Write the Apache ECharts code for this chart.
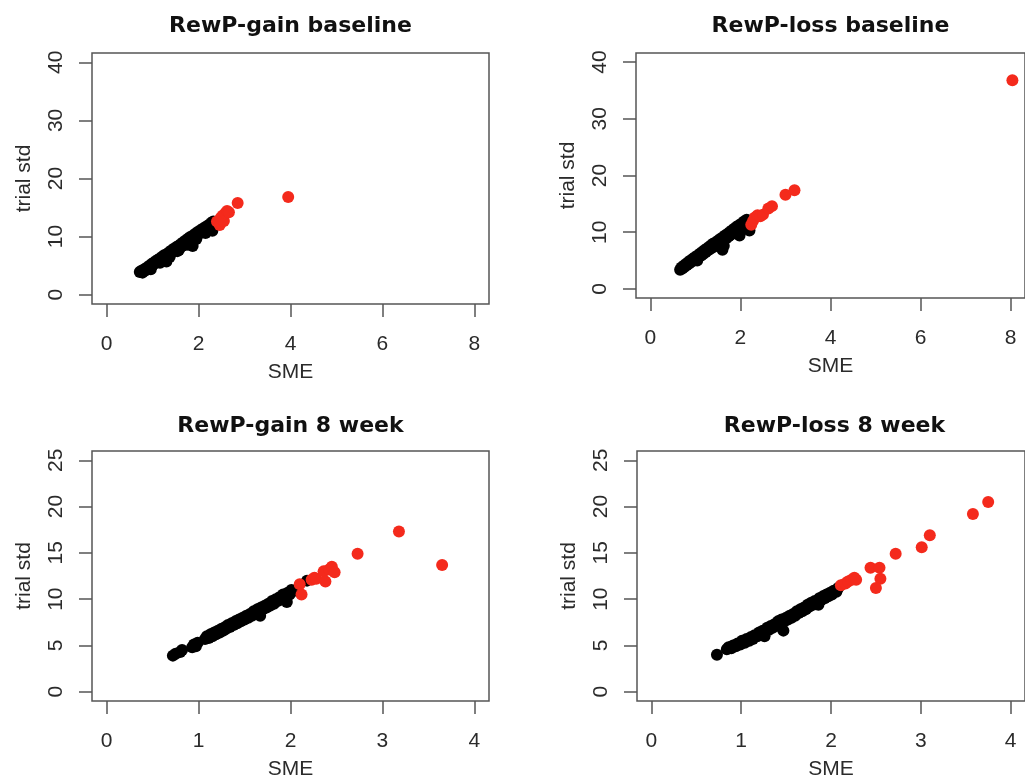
<!DOCTYPE html>
<html>
<head>
<meta charset="utf-8">
<script src="https://cdn.jsdelivr.net/npm/echarts@6/dist/echarts.min.js"></script>
<style>
  html, body { margin: 0; padding: 0; background: #fff; overflow: hidden; }
  #chart { width: 1025px; height: 781px; }
</style>
</head>
<body>
<div id="chart"></div>
<script>
// Panel titles
const panelTitles = ['RewP-gain baseline', 'RewP-loss baseline', 'RewP-gain 8 week', 'RewP-loss 8 week'];
const xAxisTitle = 'SME';
const yAxisTitle = 'trial std';

// Tick labels
const baselineXTicks = [0, 2, 4, 6, 8];
const baselineYTicks = [0, 10, 20, 30, 40];
const week8XTicks = [0, 1, 2, 3, 4];
const week8YTicks = [0, 5, 10, 15, 20, 25];

// [SME, trial std] per channel — black: retained, red: flagged
const gainBaseBlack = [
  [0.72,3.9],[0.75,4.1],[0.78,3.8],[0.80,4.3],[0.83,4.4],[0.85,4.2],[0.88,4.7],[0.90,4.5],[0.93,5.0],[0.95,4.8],
  [0.96,4.4],[0.98,5.3],[1.00,5.1],[1.02,5.5],[1.05,5.4],[1.07,5.8],[1.10,5.6],[1.12,6.0],[1.15,6.2],[1.16,5.5],
  [1.17,5.9],[1.20,6.5],[1.22,6.3],[1.25,6.8],[1.28,6.5],[1.30,5.7],[1.31,7.0],[1.34,6.9],[1.36,7.3],[1.37,6.5],
  [1.39,7.1],[1.41,7.6],[1.44,7.4],[1.46,7.9],[1.49,7.6],[1.52,8.2],[1.54,7.5],[1.56,8.4],[1.57,7.7],[1.59,8.1],
  [1.61,8.7],[1.64,8.4],[1.66,9.0],[1.69,8.8],[1.71,9.3],[1.74,9.0],[1.75,8.6],[1.76,9.6],[1.79,9.3],[1.81,9.9],
  [1.84,9.6],[1.87,8.4],[1.88,10.2],[1.91,9.9],[1.93,10.5],[1.95,9.6],[1.96,10.2],[1.98,10.8],[2.01,10.5],[2.04,11.1],
  [2.07,10.8],[2.10,11.4],[2.13,11.2],[2.15,10.6],[2.16,11.7],[2.19,11.4],[2.22,12.0],[2.25,11.8],[2.28,12.4],[2.30,11.0],
  [2.32,12.6],[2.34,12.2]
];
const gainBaseRed = [
  [2.40,12.6],[2.46,12.0],[2.48,13.2],[2.52,13.6],[2.55,12.7],[2.58,14.0],[2.62,14.4],[2.66,14.2],[2.85,15.8],[3.95,16.8]
];

const lossBaseBlack = [
  [0.66,3.4],[0.69,3.8],[0.71,3.6],[0.74,4.1],[0.76,3.9],[0.79,4.4],[0.81,4.2],[0.84,4.7],[0.86,4.5],[0.89,5.0],
  [0.91,4.8],[0.94,5.3],[0.96,5.0],[0.99,5.6],[1.01,5.3],[1.04,5.0],[1.05,5.9],[1.08,5.7],[1.10,6.2],[1.13,5.9],
  [1.15,6.5],[1.18,6.2],[1.20,6.8],[1.23,6.5],[1.25,7.1],[1.28,6.8],[1.30,7.4],[1.33,7.1],[1.35,7.7],[1.38,7.3],
  [1.40,8.0],[1.43,7.6],[1.45,8.2],[1.48,7.9],[1.50,8.5],[1.53,8.2],[1.55,8.8],[1.58,8.4],[1.60,6.9],[1.61,9.1],
  [1.63,7.6],[1.64,8.7],[1.66,9.4],[1.69,9.0],[1.71,9.7],[1.74,9.3],[1.76,10.0],[1.79,9.6],[1.81,10.3],[1.84,9.9],
  [1.86,10.6],[1.89,10.2],[1.91,10.9],[1.94,10.5],[1.96,11.2],[1.98,9.4],[1.99,10.8],[2.02,11.5],[2.05,11.1],[2.08,11.9],
  [2.11,11.5],[2.14,12.2],[2.16,11.8],[2.20,10.3]
];
const lossBaseRed = [
  [2.24,11.3],[2.28,12.0],[2.32,12.6],[2.38,13.0],[2.44,12.8],[2.50,13.1],[2.62,14.2],[2.70,14.6],[3.00,16.6],[3.20,17.4],[8.04,36.8]
];

const gainWeekBlack = [
  [0.72,3.9],[0.75,4.1],[0.80,4.3],[0.82,4.5],[0.93,4.8],[0.95,5.1],[0.97,4.9],[0.99,5.3],[1.07,5.7],[1.09,6.0],
  [1.11,5.8],[1.13,6.2],[1.15,6.0],[1.17,6.4],[1.19,6.2],[1.21,6.6],[1.23,6.4],[1.25,6.8],[1.27,6.6],[1.29,7.0],
  [1.30,6.8],[1.32,7.2],[1.34,7.0],[1.36,7.4],[1.38,7.2],[1.40,7.6],[1.42,7.4],[1.44,7.8],[1.46,7.6],[1.48,8.0],
  [1.50,7.8],[1.52,8.2],[1.54,8.0],[1.56,8.4],[1.58,8.2],[1.60,8.7],[1.62,8.5],[1.64,8.9],[1.66,8.6],[1.67,8.2],
  [1.68,9.1],[1.70,8.9],[1.72,9.3],[1.74,9.1],[1.76,9.5],[1.78,9.3],[1.80,9.8],[1.82,9.5],[1.84,10.0],[1.86,9.8],
  [1.88,10.2],[1.90,10.0],[1.92,10.5],[1.94,10.3],[1.96,9.7],[1.97,10.7],[1.99,10.5],[2.01,11.0],[2.04,10.9],[2.18,12.0]
];
const gainWeekRed = [
  [2.10,11.6],[2.12,10.5],[2.23,12.1],[2.26,12.3],[2.28,12.2],[2.36,13.0],[2.38,11.9],[2.42,13.2],[2.45,13.5],[2.48,12.9],
  [2.73,14.9],[3.18,17.3],[3.65,13.7]
];

const lossWeekBlack = [
  [0.73,4.0],[0.84,4.6],[0.86,4.8],[0.89,4.7],[0.91,5.0],[0.94,4.9],[0.96,5.2],[0.99,5.1],[1.01,5.5],[1.04,5.3],
  [1.06,5.7],[1.09,5.5],[1.11,5.9],[1.13,5.7],[1.15,6.1],[1.18,6.0],[1.20,6.4],[1.22,6.2],[1.24,6.6],[1.26,6.0],
  [1.27,6.5],[1.29,6.9],[1.31,6.7],[1.33,7.1],[1.35,6.9],[1.37,7.3],[1.39,7.1],[1.41,7.6],[1.43,7.4],[1.45,7.8],
  [1.47,6.6],[1.48,7.6],[1.50,8.0],[1.52,7.8],[1.54,8.2],[1.56,8.0],[1.58,8.4],[1.60,8.2],[1.62,8.7],[1.64,8.5],
  [1.66,8.9],[1.68,8.7],[1.70,9.1],[1.72,8.9],[1.74,9.4],[1.76,9.2],[1.78,9.6],[1.80,9.4],[1.82,9.8],[1.84,9.6],
  [1.86,9.4],[1.87,10.1],[1.89,9.9],[1.91,10.3],[1.93,10.1],[1.95,10.5],[1.97,10.3],[1.99,10.7],[2.01,10.5],[2.03,10.9],
  [2.06,10.8],[2.08,11.2]
];
const lossWeekRed = [
  [2.11,11.5],[2.16,11.7],[2.19,11.9],[2.23,12.1],[2.26,12.3],[2.28,12.1],[2.44,13.4],[2.54,13.4],[2.55,12.2],[2.50,11.2],
  [2.72,14.9],[3.01,15.6],[3.10,16.9],[3.58,19.2],[3.75,20.5]
];

// Layout of the four plot boxes (pixels)
const boxes = [
  { left: 92,  top: 53,  width: 397, height: 251 },
  { left: 636, top: 53,  width: 389, height: 245 },
  { left: 92,  top: 451, width: 397, height: 252 },
  { left: 637, top: 451, width: 395, height: 251 }
];
const panels = [
  { black: gainBaseBlack, red: gainBaseRed, xt: baselineXTicks, yt: baselineYTicks },
  { black: lossBaseBlack, red: lossBaseRed, xt: baselineXTicks, yt: baselineYTicks },
  { black: gainWeekBlack, red: gainWeekRed, xt: week8XTicks, yt: week8YTicks },
  { black: lossWeekBlack, red: lossWeekRed, xt: week8XTicks, yt: week8YTicks }
];

// R-style axis extent: 4% padding on each side of the tick span
function padded(ticks) {
  const lo = ticks[0], hi = ticks[ticks.length - 1];
  const pad = (hi - lo) * 0.04;
  return { min: lo - pad, max: hi + pad };
}

const frame = '#555';
const textCol = '#2b2b2b';
const labelFont = { fontFamily: 'Liberation Sans, Arial, sans-serif', fontSize: 21, color: textCol };

const option = {
  animation: false,
  backgroundColor: '#fff',
  title: panelTitles.map((t, i) => ({
    text: t,
    left: boxes[i].left + boxes[i].width / 2 - 5,
    top: i >= 2 ? 410 : 10,
    textAlign: 'center',
    textStyle: { fontFamily: 'DejaVu Sans, sans-serif', fontWeight: 'bold', fontSize: 22, color: '#111' }
  })),
  grid: boxes.map(b => ({
    left: b.left, top: b.top, width: b.width, height: b.height,
    show: true, borderColor: frame, borderWidth: 1.5, backgroundColor: 'transparent',
    containLabel: false
  })),
  xAxis: panels.map((p, i) => {
    const r = padded(p.xt);
    return {
      gridIndex: i, type: 'value', min: r.min, max: r.max, position: 'bottom',
      name: xAxisTitle, nameLocation: 'middle', nameGap: 58,
      nameTextStyle: labelFont,
      axisLine: { show: false, onZero: false },
      splitLine: { show: false },
      axisTick: { show: true, inside: false, length: 13, customValues: p.xt, lineStyle: { color: frame, width: 1.5 } },
      axisLabel: { show: true, margin: 30, customValues: p.xt, ...labelFont }
    };
  }),
  yAxis: panels.map((p, i) => {
    const r = padded(p.yt);
    return {
      gridIndex: i, type: 'value', min: r.min, max: r.max, position: 'left',
      name: yAxisTitle, nameLocation: 'middle', nameGap: 57, nameRotate: 90,
      nameTextStyle: labelFont,
      axisLine: { show: false, onZero: false },
      splitLine: { show: false },
      axisTick: { show: true, inside: false, length: 13, customValues: p.yt, lineStyle: { color: frame, width: 1.5 } },
      axisLabel: { show: true, margin: 25, rotate: 90, customValues: p.yt, ...labelFont }
    };
  }),
  series: panels.flatMap((p, i) => [
    {
      type: 'scatter', xAxisIndex: i, yAxisIndex: i, data: p.black,
      symbol: 'circle', symbolSize: 12,
      itemStyle: { color: '#000', opacity: 1 },
      emphasis: { disabled: true }
    },
    {
      type: 'scatter', xAxisIndex: i, yAxisIndex: i, data: p.red,
      symbol: 'circle', symbolSize: 12,
      itemStyle: { color: '#f42a1c', opacity: 1 },
      emphasis: { disabled: true }
    }
  ])
};

const chart = echarts.init(document.getElementById('chart'), null, { renderer: 'canvas' });
chart.setOption(option);
</script>
</body>
</html>
